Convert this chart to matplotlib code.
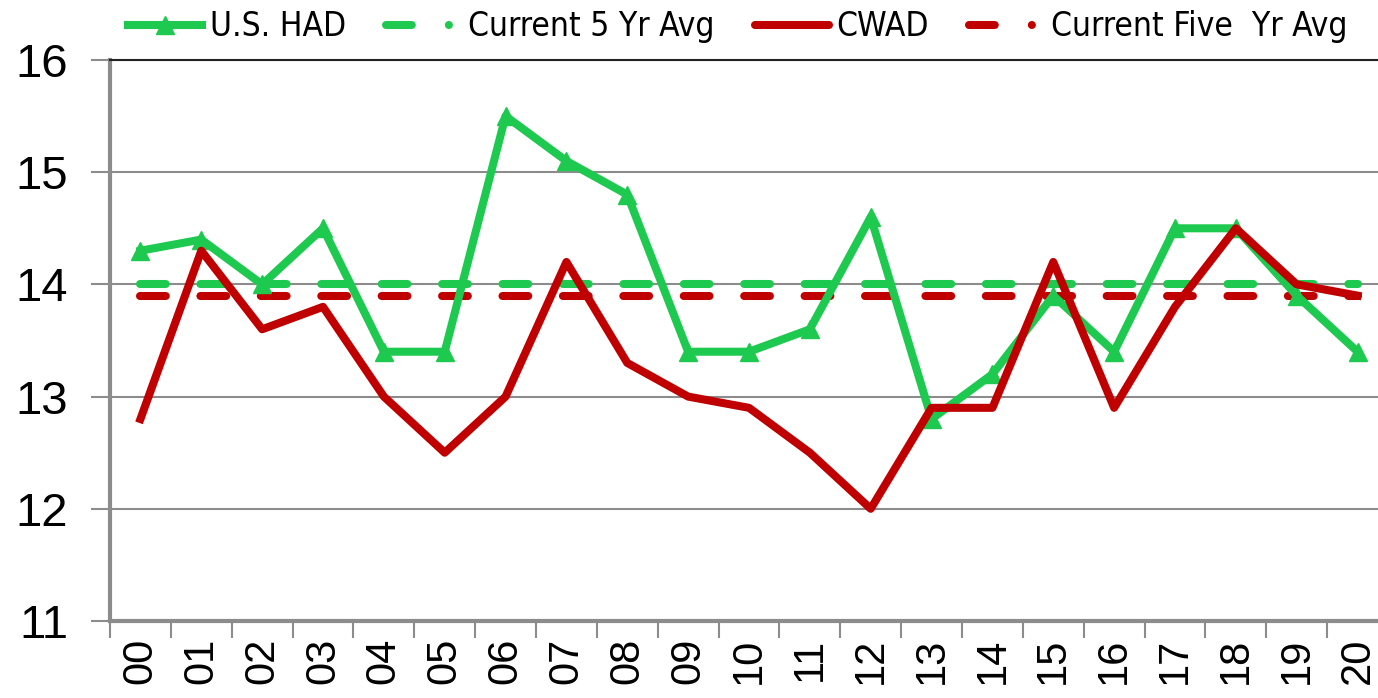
import matplotlib.pyplot as plt
from matplotlib import font_manager
from matplotlib.font_manager import FontProperties
from matplotlib.lines import Line2D

years = ["00", "01", "02", "03", "04", "05", "06", "07", "08", "09", "10",
         "11", "12", "13", "14", "15", "16", "17", "18", "19", "20"]
us_had = [14.3, 14.4, 14.0, 14.5, 13.4, 13.4, 15.5, 15.1, 14.8, 13.4, 13.4,
          13.6, 14.6, 12.8, 13.2, 13.9, 13.4, 14.5, 14.5, 13.9, 13.4]
cwad = [12.8, 14.3, 13.6, 13.8, 13.0, 12.5, 13.0, 14.2, 13.3, 13.0, 12.9,
        12.5, 12.0, 12.9, 12.9, 14.2, 12.9, 13.8, 14.5, 14.0, 13.9]
us_avg = [14.0] * len(years)
cwad_avg = [13.9] * len(years)

green = "#1ec94f"
red = "#c00000"
grid_c = "#8c8c8c"

# condensed face for the legend if there is one
cond = FontProperties(family="DejaVu Sans", stretch="condensed", size=24)
cond_file = font_manager.findfont(cond)
if "Condensed" not in cond_file:
    cond = FontProperties(family="DejaVu Sans", size=20)

fig = plt.figure(figsize=(13.78, 6.98), dpi=100)
ax = fig.add_axes([110 / 1378, 1 - 621 / 698, 1278 / 1378, 561 / 698])

x = list(range(len(years)))
lw = 5.8
dash = (3.2, 4.3)
ax.plot(x, us_avg, color=green, lw=lw, dashes=dash, dash_capstyle="round", zorder=2)
ax.plot(x, cwad_avg, color=red, lw=lw, dashes=dash, dash_capstyle="round", zorder=2)
ax.plot(x, us_had, color=green, lw=lw, marker="^", markersize=13, zorder=3)
ax.plot(x, cwad, color=red, lw=lw, zorder=4)

ax.set_xlim(-0.5, len(years) - 0.5)
ax.set_ylim(11, 16)
ax.set_yticks([11, 12, 13, 14, 15, 16])
ax.set_xticks(x)
ax.set_xticklabels(years, rotation=90, fontsize=30, family=["Liberation Sans", "DejaVu Sans"])
ax.set_xticks([i - 0.5 for i in range(len(years) + 1)], minor=True)
ax.tick_params(axis="x", which="major", length=0, pad=12)
ax.tick_params(axis="x", which="minor", length=12, width=1.5, color=grid_c)
ax.tick_params(axis="y", length=14, width=1.5, color=grid_c, labelsize=34, pad=16)
for lab in ax.get_yticklabels():
    lab.set_family(["Liberation Sans", "DejaVu Sans"])

ax.grid(axis="y", color=grid_c, lw=1.5, zorder=0)
ax.set_axisbelow(True)
ax.spines["right"].set_visible(False)
ax.spines["top"].set_color("#222222")
ax.spines["top"].set_linewidth(1.5)
ax.spines["left"].set_color(grid_c)
ax.spines["left"].set_linewidth(3)
ax.spines["bottom"].set_color(grid_c)
ax.spines["bottom"].set_linewidth(3)

leg_dash = (3.2, 4.6, 0.01, 20)
handles = [
    Line2D([], [], color=green, lw=lw, marker="^", markersize=13),
    Line2D([], [], color=green, lw=lw, dashes=leg_dash, dash_capstyle="round"),
    Line2D([], [], color=red, lw=lw, solid_capstyle="round"),
    Line2D([], [], color=red, lw=lw, dashes=leg_dash, dash_capstyle="round"),
]
labels = ["U.S. HAD", "Current 5 Yr Avg", "CWAD", "Current Five  Yr Avg"]
em = cond.get_size_in_points() * 100 / 72
fig.legend(handles, labels, loc="upper left", bbox_to_anchor=(98 / 1378, 1.028),
           ncol=4, frameon=False, handlelength=74 / em, handletextpad=8 / em,
           columnspacing=40 / em, prop=cond)

fig.savefig("out.png", dpi=100)
